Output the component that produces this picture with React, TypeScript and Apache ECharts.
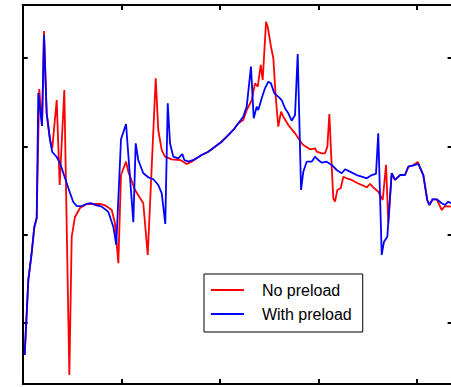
import React, { useEffect, useRef } from "react";
import * as echarts from "echarts";

// Series values: [x, y] pairs in axis units
// (x ticks every 100, y ticks at 10, 20, 30, 40).
const noPreload: [number, number][] = [
  [2.0, 6.38], [5.7, 14.87], [9.1, 17.92], [11.8, 20.87], [14.2, 21.89], [16.8, 36.49],
  [19.6, 32.3], [21.6, 43.05], [24.3, 33.77], [27.7, 30.72], [30.0, 29.81], [34.5, 35.24],
  [37.5, 25.62], [42.2, 36.38], [47.3, 4.11], [49.7, 19.74], [53.0, 22.0], [58.1, 23.02],
  [64.9, 23.47], [78.4, 23.47], [83.5, 23.32], [90.3, 22.79], [93.6, 21.29], [97.0, 16.76],
  [99.7, 26.75], [104.8, 28.26], [107.1, 27.13], [113.9, 25.06], [122.3, 23.55], [126.8, 17.7],
  [134.9, 37.7], [137.5, 31.85], [141.0, 29.58], [144.3, 28.83], [151.1, 28.53], [159.5, 28.45],
  [162.9, 28.26], [166.3, 28.0], [171.4, 28.26], [174.7, 28.53], [181.5, 29.02], [188.2, 29.39],
  [195.0, 29.96], [201.8, 30.52], [208.5, 31.28], [213.6, 31.85], [218.7, 32.61], [223.7, 32.98],
  [227.2, 34.11], [232.3, 35.24], [235.6, 37.13], [238.4, 36.75], [241.4, 39.21], [243.4, 37.51],
  [246.8, 44.11], [248.5, 43.54], [251.8, 41.28], [254.2, 39.97], [256.6, 35.62], [259.2, 32.22],
  [262.0, 33.92], [264.3, 33.35], [269.4, 32.41], [276.2, 31.47], [283.0, 30.34], [284.6, 30.15],
  [291.4, 29.66], [296.5, 29.78], [298.2, 29.39], [303.2, 29.21], [306.6, 29.21], [309.0, 29.96],
  [311.0, 33.66], [313.4, 27.69], [315.0, 24.12], [316.8, 23.73], [319.1, 25.06], [322.5, 25.25],
  [325.2, 26.56], [328.6, 26.38], [333.7, 26.19], [338.7, 25.88], [343.8, 25.62], [348.9, 25.36],
  [352.3, 25.74], [355.6, 25.36], [360.6, 24.86], [365.1, 23.92], [368.5, 27.89], [370.8, 21.29],
  [374.2, 26.95], [377.6, 26.19], [382.7, 26.75], [387.7, 26.75], [391.1, 27.69], [396.1, 27.85],
  [400.6, 28.23], [406.3, 26.75], [410.3, 23.92], [412.4, 23.36], [415.8, 24.0], [419.9, 24.0],
  [425.0, 22.79], [428.3, 23.24], [434.4, 23.17],
];

const withPreload: [number, number][] = [
  [2.0, 6.38], [5.7, 14.87], [9.1, 17.92], [11.8, 20.87], [14.2, 21.89], [15.8, 36.04],
  [19.6, 32.3], [21.6, 42.6], [24.3, 33.77], [27.7, 30.72], [30.0, 29.36], [34.5, 28.79],
  [37.8, 28.11], [42.9, 26.41], [48.0, 24.72], [51.3, 23.7], [54.8, 23.24], [59.8, 23.24],
  [64.9, 23.47], [69.0, 23.58], [73.3, 23.36], [80.1, 23.17], [86.8, 22.6], [91.9, 20.9],
  [94.9, 18.83], [99.7, 30.8], [104.8, 32.53], [112.2, 21.4], [114.6, 30.34], [117.2, 28.45],
  [122.3, 26.95], [127.4, 26.49], [132.5, 26.27], [137.5, 25.62], [141.0, 24.68], [144.6, 21.21],
  [147.1, 34.87], [149.4, 30.34], [152.7, 28.83], [157.8, 28.64], [161.9, 29.13], [163.9, 28.45],
  [168.0, 28.26], [174.7, 28.53], [181.5, 29.02], [188.2, 29.39], [195.0, 29.96], [201.8, 30.52],
  [208.5, 31.28], [213.6, 31.85], [218.7, 32.61], [223.7, 33.35], [227.2, 34.49], [231.5, 39.02],
  [234.3, 33.17], [237.3, 34.49], [238.9, 34.11], [242.4, 35.44], [245.7, 36.57], [249.1, 37.32],
  [251.8, 37.13], [255.2, 36.0], [259.2, 35.62], [262.7, 35.24], [266.0, 34.31], [269.4, 33.74],
  [272.8, 32.9], [276.2, 33.55], [278.9, 40.45], [282.3, 25.06], [284.6, 27.13], [288.0, 28.26],
  [293.1, 28.26], [296.5, 28.83], [299.8, 28.45], [303.2, 28.15], [308.3, 28.26], [313.4, 27.89],
  [318.5, 27.32], [323.5, 26.95], [326.9, 27.4], [331.9, 27.13], [338.7, 26.75], [343.8, 26.56],
  [348.9, 26.38], [354.0, 26.75], [358.3, 26.87], [360.6, 31.47], [364.1, 17.7], [366.4, 19.2],
  [369.8, 19.77], [374.2, 26.95], [377.6, 26.19], [382.7, 26.75], [387.7, 26.75], [391.1, 27.69],
  [396.1, 27.85], [401.2, 28.0], [406.3, 26.75], [410.3, 23.92], [412.4, 23.36], [415.8, 24.0],
  [419.9, 24.0], [425.0, 23.55], [428.3, 23.36], [431.6, 23.73], [434.4, 23.55],
];

const seriesNames = ["No preload", "With preload"];
const yTickValues = [10, 20, 30, 40];
const X_MIN = 0;
const X_MAX = 436;
const Y_MIN = 3.09;
const Y_MAX = 46;

const axisBase = {
  axisLine: { show: true, onZero: false, lineStyle: { color: "#000", width: 2 } },
  axisLabel: { show: false },
  splitLine: { show: false },
};

export default function App() {
  const ref = useRef<HTMLDivElement>(null);
  useEffect(() => {
    if (!ref.current) return;
    const chart = echarts.init(ref.current, null, { renderer: "svg" });
    const xTick = { show: true, inside: true, length: 5, lineStyle: { color: "#000", width: 2 } };
    const yTick = { ...xTick, customValues: yTickValues };
    chart.setOption({
      animation: false,
      backgroundColor: "#fff",
      grid: { left: 22.7, top: 5, width: 429.9, height: 379, containLabel: false },
      xAxis: [
        { type: "value", min: X_MIN, max: X_MAX, interval: 100, position: "bottom", ...axisBase, axisTick: xTick },
        { type: "value", min: X_MIN, max: X_MAX, interval: 100, position: "top", ...axisBase, axisTick: xTick },
      ],
      yAxis: [
        { type: "value", min: Y_MIN, max: Y_MAX, position: "left", ...axisBase, axisTick: yTick },
        { type: "value", min: Y_MIN, max: Y_MAX, position: "right", ...axisBase, axisTick: yTick },
      ],
      legend: {
        data: seriesNames,
        orient: "vertical",
        left: 204,
        top: 274,
        padding: [8, 11, 10, 6],
        itemWidth: 33,
        itemHeight: 14,
        itemGap: 8,
        backgroundColor: "#fff",
        borderColor: "#000",
        borderWidth: 1,
        itemStyle: { opacity: 0 },
        lineStyle: { width: 1.8 },
        textStyle: {
          fontSize: 16,
          color: "#000",
          fontFamily: "'Liberation Sans', Arial, sans-serif",
          padding: [0, 0, 0, 13],
        },
      },
      series: [
        {
          name: seriesNames[0],
          type: "line",
          data: noPreload,
          symbol: "none",
          color: "#ff0000",
          lineStyle: { color: "#ff0000", width: 1.8 },
          xAxisIndex: 0,
          yAxisIndex: 0,
        },
        {
          name: seriesNames[1],
          type: "line",
          data: withPreload,
          symbol: "none",
          color: "#0000ff",
          lineStyle: { color: "#0000ff", width: 1.8 },
          xAxisIndex: 0,
          yAxisIndex: 0,
        },
      ],
    });
    return () => chart.dispose();
  }, []);
  return (
    <div style={{ position: "absolute", left: 0, top: 0, width: 451, height: 387, overflow: "hidden", background: "#fff" }}>
      <div ref={ref} style={{ width: 460, height: 387 }} />
    </div>
  );
}
